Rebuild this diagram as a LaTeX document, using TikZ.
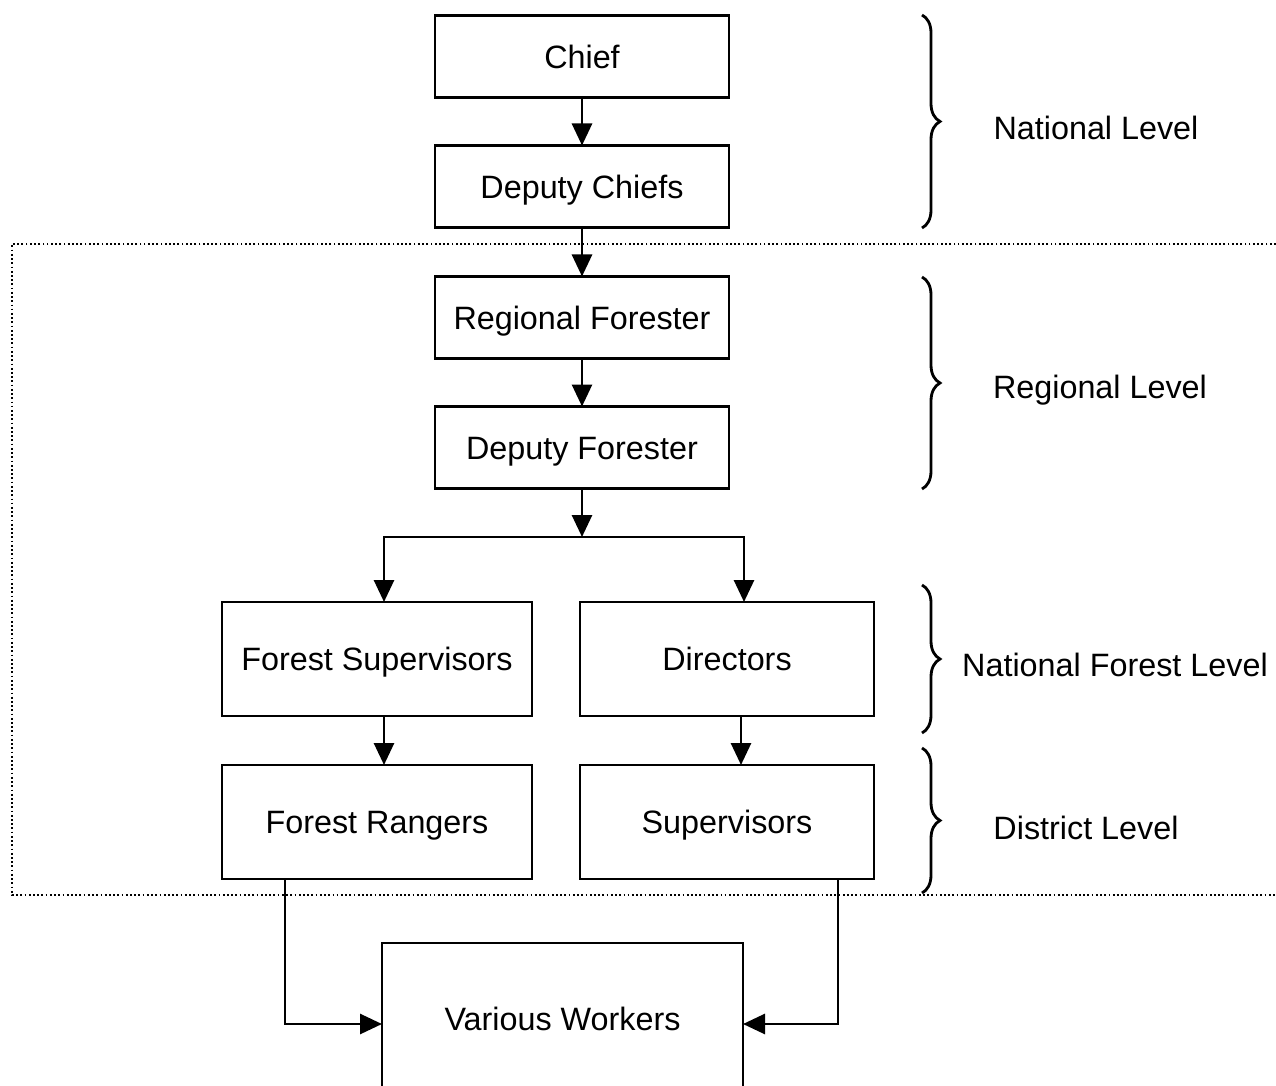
\documentclass[tikz,border=0pt]{standalone}
\usepackage{fontspec}
\setmainfont{Liberation Sans}
\usepackage{tikz}
\usetikzlibrary{arrows.meta,positioning,decorations.pathreplacing}

\begin{document}
\begin{tikzpicture}[
        box/.style={draw=black, fill=white, text=black, line width=0.7pt, inner sep=0pt, outer sep=0pt, minimum width=2.94cm, minimum height=0.82cm, text height=6.6pt, text depth=0pt, align=center, font=\fontsize{9.2}{11}\selectfont},
        widebox/.style={box, minimum height=1.14cm},
        level/.style={text=black, align=center, font=\fontsize{9.2}{11}\selectfont},
        arrow/.style={-{Triangle[length=2.2mm, width=2mm]}, line width=0.8pt},
        brace/.style={decorate, decoration={brace, amplitude=0.18cm}, line width=0.8pt},
        frame/.style={line width=0.6pt, dash pattern=on 0.5pt off 0.7pt}
    ]
    \useasboundingbox (0,0) rectangle (12.76,-10.86);
    \node[box] (chief) at (5.82,-0.565) {Chief};
    \node[box, below=0.48cm of chief] (dchiefs) {Deputy Chiefs};
    \node[box, below=0.49cm of dchiefs] (rforester) {Regional Forester};
    \node[box, below=0.48cm of rforester] (dforester) {Deputy Forester};
    \coordinate (split) at (5.82,-5.37);
    \node[widebox, minimum width=3.10cm] (fsup) at (3.77,-6.59) {Forest Supervisors};
    \node[widebox] (directors) at (7.27,-6.59) {Directors};
    \node[widebox, minimum width=3.10cm, below=0.49cm of fsup] (rangers) {Forest Rangers};
    \node[widebox, below=0.49cm of directors] (supervisors) {Supervisors};
    \node[box, minimum width=3.61cm, minimum height=1.52cm] (workers) at (5.625,-10.19) {Various Workers};
    \draw[frame] (12.80,-2.44) -- (0.12,-2.44) -- (0.12,-8.95) -- (12.80,-8.95);
    \draw[arrow] (chief) -- (dchiefs);
    \draw[arrow] (dchiefs) -- (rforester);
    \draw[arrow] (rforester) -- (dforester);
    \draw[arrow] (dforester) -- (split);
    \draw[arrow] (split) -| ([xshift=0.07cm]fsup.north);
    \draw[arrow] (split) -| ([xshift=0.17cm]directors.north);
    \draw[arrow] ([xshift=0.07cm]fsup.south) -- ([xshift=0.07cm]rangers.north);
    \draw[arrow] ([xshift=0.14cm]directors.south) -- ([xshift=0.14cm]supervisors.north);
    \draw[arrow] ([xshift=-0.92cm]rangers.south) |- ([yshift=-0.05cm]workers.west);
    \draw[arrow] ([xshift=1.11cm]supervisors.south) |- ([yshift=-0.05cm]workers.east);
    \draw[brace] (9.22,-0.15) -- (9.22,-2.28);
    \draw[brace] (9.22,-2.77) -- (9.22,-4.89);
    \draw[brace] (9.22,-5.85) -- (9.22,-7.33);
    \draw[brace] (9.22,-7.48) -- (9.22,-8.93);
    \node[level] (national) at (10.96,-1.28) {National Level};
    \node[level] (regional) at (11.00,-3.90) {Regional Level};
    \node[level] (nforest) at (11.15,-6.65) {National Forest Level};
    \node[level] (district) at (10.86,-8.28) {District Level};
\end{tikzpicture}
\end{document}
